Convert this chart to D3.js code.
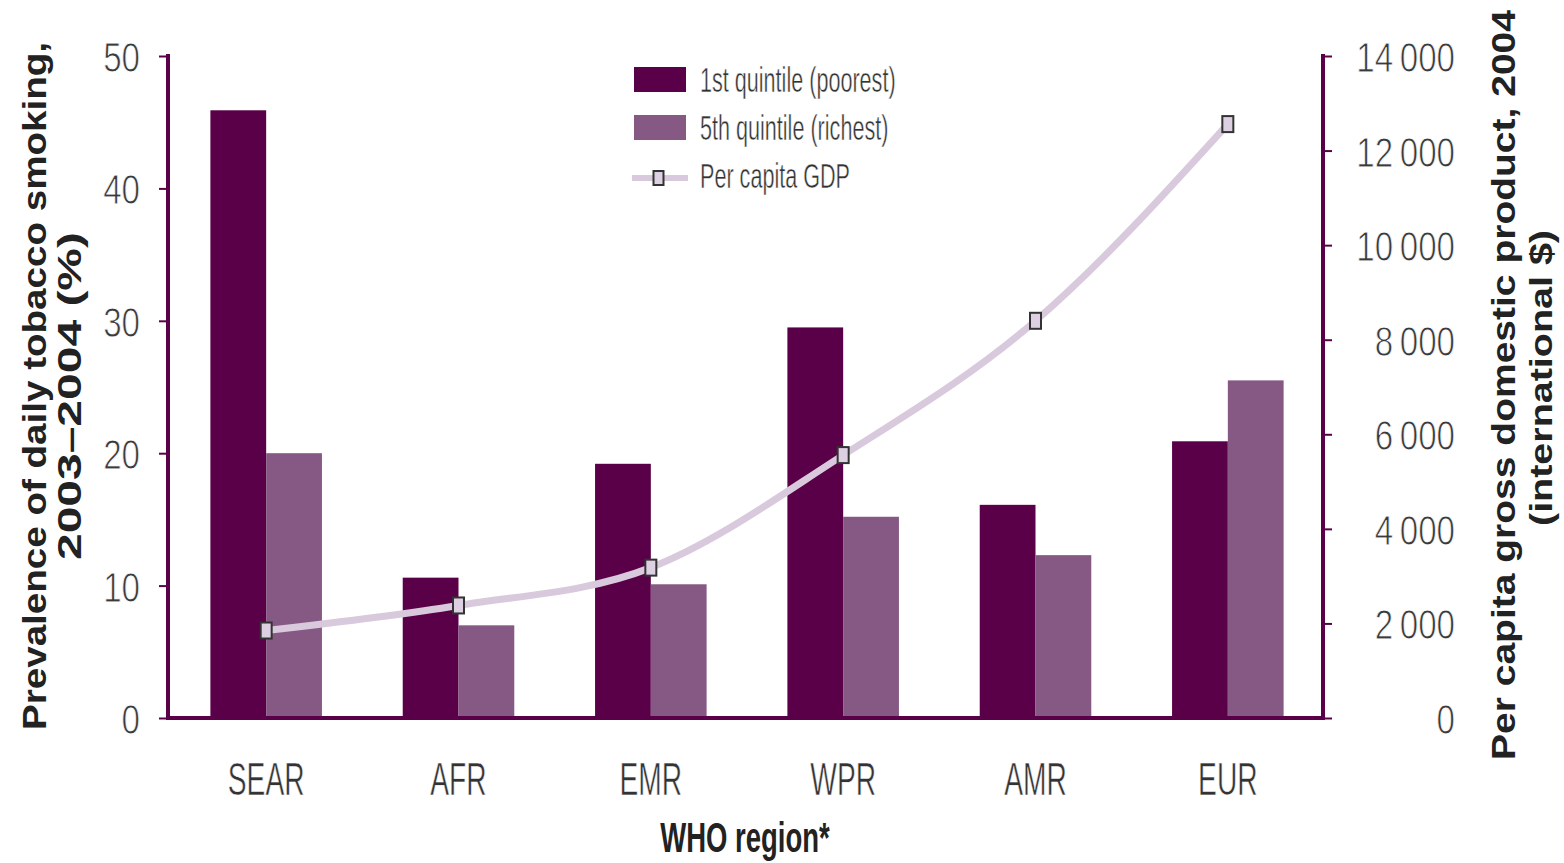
<!DOCTYPE html>
<html>
<head>
<meta charset="utf-8">
<script src="https://cdn.jsdelivr.net/npm/d3@7"></script>
<style>
  html, body { margin: 0; padding: 0; background: #fff; }
  svg { display: block; }
</style>
</head>
<body>
<svg id="chart" width="1564" height="863"></svg>
<script>
// ---- data ----
const regions = ["SEAR", "AFR", "EMR", "WPR", "AMR", "EUR"];
const poorest = [45.9, 10.6, 19.2, 29.5, 16.1, 20.9];
const richest = [20.0, 7.0, 10.1, 15.2, 12.3, 25.5];
const gdp = [1850, 2380, 3180, 5560, 8400, 12560];
const leftTicks = [0, 10, 20, 30, 40, 50];
const rightTicks = [0, 2000, 4000, 6000, 8000, 10000, 12000, 14000];
const seriesNames = ["1st quintile (poorest)", "5th quintile (richest)", "Per capita GDP"];

// ---- styles ----
const C_DARK = "#5a0048";
const C_LIGHT = "#865884";
const C_LINE = "#d9c9dc";
const C_MARK = "#ddd0e2";
const TXT = "#333";
const SANS = "'Liberation Sans', Arial, sans-serif";

const svg = d3.select("#chart");
const plot = { left: 168, right: 1323, top: 56, bottom: 718 };

const x = d3.scaleBand().domain(regions).range([plot.left + 2, plot.right + 1])
  .paddingInner(0.42).paddingOuter(0.21);
const sub = d3.scaleBand().domain([0, 1]).range([0, x.bandwidth()]);
const yL = d3.scaleLinear().domain([0, 50]).range([plot.bottom, plot.top]);
const yR = d3.scaleLinear().domain([0, 14000]).range([plot.bottom, plot.top]);

// ---- bars ----
const barData = regions.map((r, i) => ({ r, vals: [poorest[i], richest[i]] }));
svg.append("g").selectAll("g.grp").data(barData).join("g")
  .attr("class", "grp")
  .attr("transform", d => `translate(${x(d.r)},0)`)
  .selectAll("rect").data(d => d.vals.map((v, k) => ({ v, k }))).join("rect")
  .attr("x", d => sub(d.k))
  .attr("width", sub.bandwidth())
  .attr("y", d => yL(d.v))
  .attr("height", d => yL(0) - yL(d.v))
  .attr("fill", d => d.k === 0 ? C_DARK : C_LIGHT);

// ---- GDP line ----
const cx = r => x(r) + x.bandwidth() / 2;
const line = d3.line().x((d, i) => cx(regions[i])).y(d => yR(d)).curve(d3.curveMonotoneX);
svg.append("path").datum(gdp)
  .attr("d", line).attr("fill", "none")
  .attr("stroke", C_LINE).attr("stroke-width", 7).attr("stroke-linecap", "round");
svg.selectAll("rect.mk").data(gdp).join("rect")
  .attr("class", "mk")
  .attr("x", (d, i) => cx(regions[i]) - 5.5)
  .attr("y", d => yR(d) - 8)
  .attr("width", 11).attr("height", 16)
  .attr("fill", C_MARK).attr("stroke", "#333").attr("stroke-width", 2);

// ---- axes ----
const axL = svg.append("g").attr("transform", `translate(${plot.left},0)`)
  .call(d3.axisLeft(yL).tickValues(leftTicks).tickSize(9).tickFormat(d3.format("d")));
const fmtR = d => d3.format(",")(d).replace(",", "\u2009");
const axR = svg.append("g").attr("transform", `translate(${plot.right},0)`)
  .call(d3.axisRight(yR).tickValues(rightTicks).tickSize(9).tickFormat(fmtR));
[[axL, -28], [axR, 132]].forEach(([a, off]) => {
  a.select(".domain").attr("stroke", C_DARK).attr("stroke-width", 4)
    .attr("d", `M0,${plot.top - 2}V${plot.bottom + 2}`);
  a.selectAll(".tick line").attr("stroke", C_DARK).attr("stroke-width", 2);
  a.selectAll(".tick text")
    .attr("x", null)
    .attr("transform", `translate(${off},0) scale(0.77,1)`)
    .attr("text-anchor", "end")
    .attr("font-family", SANS).attr("font-size", 43)
    .attr("fill", "#3a3a3a")
    .attr("stroke", "#fff").attr("stroke-width", 0.9)
    .attr("dy", "0.36em");
});

// bottom axis line
svg.append("line")
  .attr("x1", plot.left - 2).attr("x2", plot.right + 2)
  .attr("y1", plot.bottom).attr("y2", plot.bottom)
  .attr("stroke", C_DARK).attr("stroke-width", 4);

// category labels
svg.selectAll("text.cat").data(regions).join("text")
  .attr("class", "cat")
  .attr("transform", d => `translate(${cx(d)},795) scale(0.6,1)`)
  .attr("text-anchor", "middle")
  .attr("font-family", SANS).attr("font-size", 47).attr("fill", TXT)
  .attr("stroke", "#fff").attr("stroke-width", 0.6)
  .text(d => d);

svg.append("text")
  .attr("transform", "translate(745,852) scale(0.655,1)")
  .attr("text-anchor", "middle")
  .attr("font-family", SANS).attr("font-weight", "bold").attr("font-size", 42)
  .attr("fill", "#222").text("WHO region*");

// axis titles
function vtitle(tx, ty, txt, len, size) {
  svg.append("text")
    .attr("transform", `translate(${tx},${ty}) rotate(-90)`)
    .attr("text-anchor", "middle")
    .attr("font-family", SANS).attr("font-weight", "bold").attr("font-size", size)
    .attr("fill", "#222")
    .attr("textLength", len).attr("lengthAdjust", "spacingAndGlyphs")
    .text(txt);
}
vtitle(46, 386, "Prevalence of daily tobacco smoking,", 688, 33);
vtitle(81, 396, "2003\u20132004 (%)", 328, 33);
vtitle(1515, 385, "Per capita gross domestic product, 2004", 750, 34);
vtitle(1552, 378, "(international $)", 296, 32);

// ---- legend ----
const lg = svg.append("g");
lg.append("rect").attr("x", 634).attr("y", 67).attr("width", 52).attr("height", 25).attr("fill", C_DARK);
lg.append("rect").attr("x", 634).attr("y", 115).attr("width", 52).attr("height", 25).attr("fill", C_LIGHT);
lg.append("line").attr("x1", 632).attr("x2", 688).attr("y1", 178).attr("y2", 178)
  .attr("stroke", C_LINE).attr("stroke-width", 6);
lg.append("rect").attr("x", 653.5).attr("y", 171).attr("width", 10).attr("height", 14)
  .attr("fill", C_MARK).attr("stroke", "#333").attr("stroke-width", 2);
[92, 140, 188].forEach((by, i) => {
  lg.append("text")
    .attr("transform", `translate(700,${by}) scale(0.6,1)`)
    .attr("font-family", SANS).attr("font-size", 36).attr("fill", TXT)
    .attr("stroke", "#fff").attr("stroke-width", 0.5)
    .text(seriesNames[i]);
});
</script>
</body>
</html>
